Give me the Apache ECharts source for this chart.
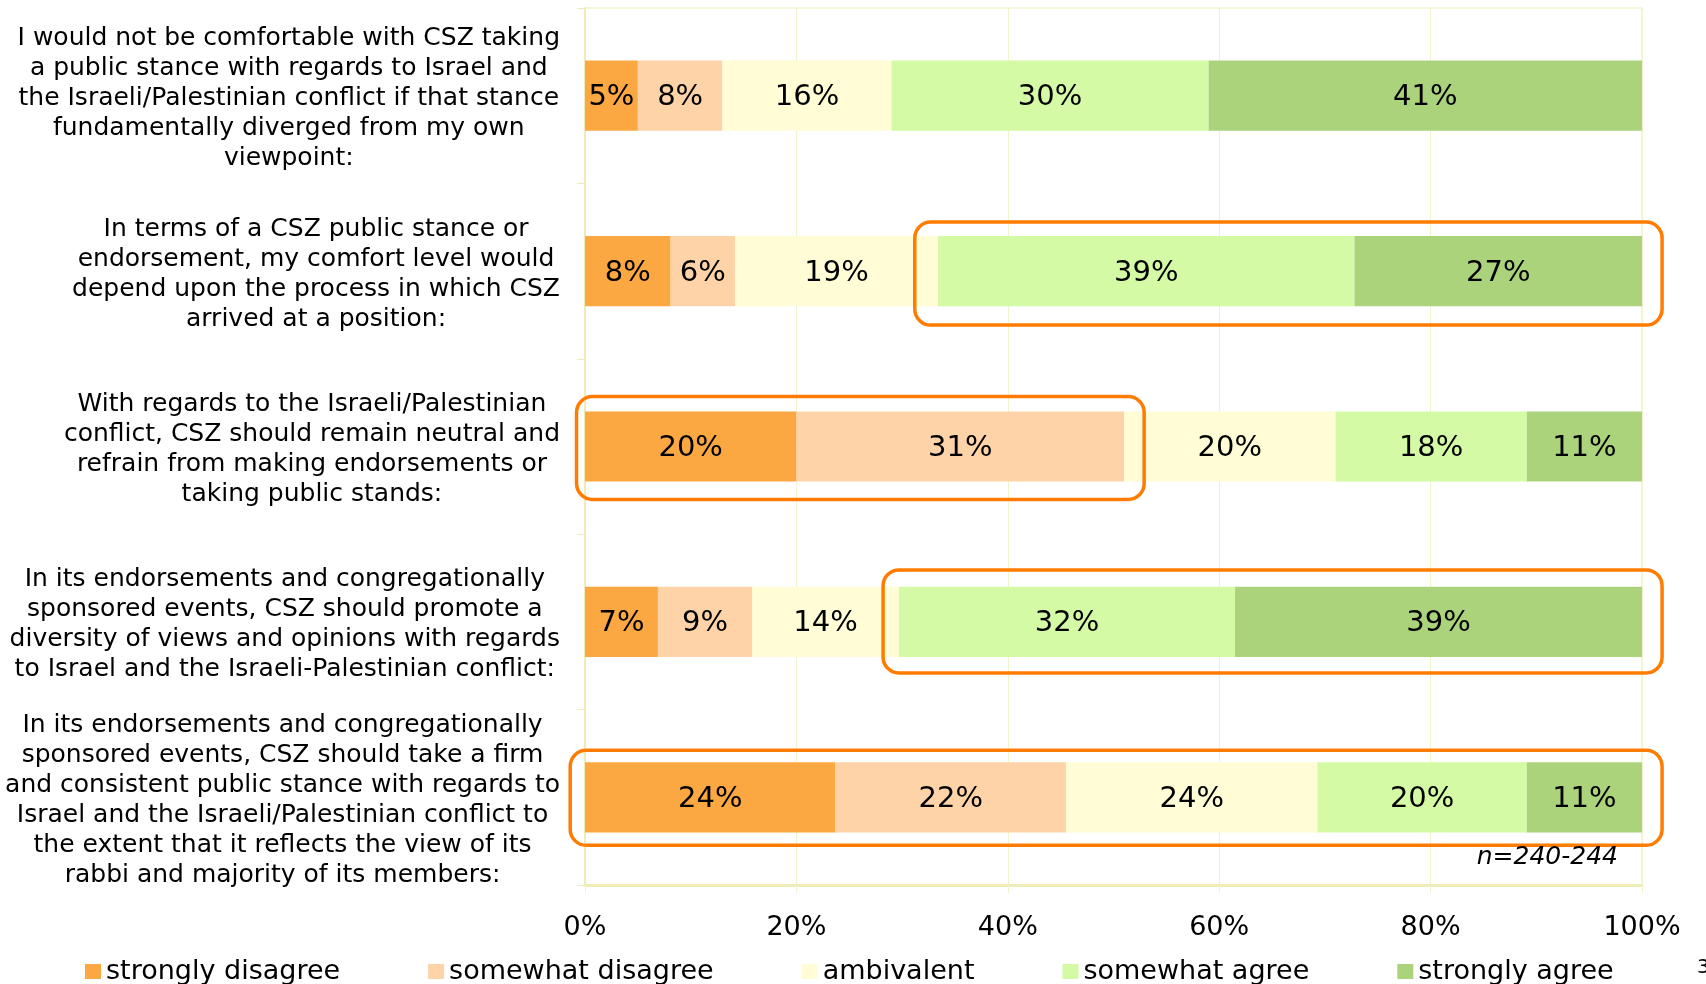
<!DOCTYPE html>
<html>
<head>
<meta charset="utf-8">
<title>CSZ public stance</title>
<script src="https://cdn.jsdelivr.net/npm/echarts@6/dist/echarts.min.js"></script>
<style>
  html, body { margin: 0; padding: 0; background: #fff; }
  #main { width: 1706px; height: 984px; }
</style>
</head>
<body>
<div id="main"></div>
<script>
// statements (top to bottom)
var categories = [
    'I would not be comfortable with CSZ taking\na public stance with regards to Israel and\nthe Israeli/Palestinian conflict if that stance\nfundamentally diverged from my own\nviewpoint:',
    'In terms of a CSZ public stance or\nendorsement, my comfort level would\ndepend upon the process in which CSZ\narrived at a position:',
    'With regards to the Israeli/Palestinian\nconflict, CSZ should remain neutral and\nrefrain from making endorsements or\ntaking public stands:',
    'In its endorsements and congregationally\nsponsored events, CSZ should promote a\ndiversity of views and opinions with regards\nto Israel and the Israeli-Palestinian conflict:',
    'In its endorsements and congregationally\nsponsored events, CSZ should take a firm\nand consistent public stance with regards to\nIsrael and the Israeli/Palestinian conflict to\nthe extent that it reflects the view of its\nrabbi and majority of its members:'
];

var seriesNames = ['strongly disagree', 'somewhat disagree', 'ambivalent', 'somewhat agree', 'strongly agree'];

// share of respondents, %
var stronglyDisagree = [5.0, 8.1, 20.0, 6.9, 23.7];
var somewhatDisagree = [8.0, 6.1, 31.0, 8.9, 21.8];
var ambivalent       = [16.0, 19.2, 20.0, 13.9, 23.8];
var somewhatAgree    = [30.0, 39.4, 18.1, 31.8, 19.8];
var stronglyAgree    = [41.0, 27.2, 10.9, 38.5, 10.9];

var xTicks = [0, 20, 40, 60, 80, 100];

// circled groups: [row, from %, to %]
var highlightBoxes = [
    [1, 31.2, 101.9],
    [2, -0.8, 52.9],
    [3, 28.2, 101.9],
    [4, -1.4, 101.9]
];

var colors = ['#fba842', '#fed3a8', '#fffcd6', '#d5faa6', '#aad37c'];
var gridColor = '#f3f2cf';
var axisColor = '#eeedb8';
var font = 'DejaVu Sans';

var chart = echarts.init(document.getElementById('main'));

var values = [stronglyDisagree, somewhatDisagree, ambivalent, somewhatAgree, stronglyAgree];
var series = seriesNames.map(function(name, i){
    return {
        name: name,
        type: 'bar',
        stack: 'total',
        barWidth: '40%',
        itemStyle: { color: colors[i] },
        label: {
            show: true,
            position: 'inside',
            offset: [0, 2],
            color: '#000',
            fontFamily: font,
            fontSize: 29,
            formatter: function(p){ return Math.round(p.value) + '%'; }
        },
        data: values[i]
    };
});

chart.setOption({
    animation: false,
    grid: {
        left: 585, right: 64, top: 8, bottom: 99,
        show: true, borderColor: axisColor, borderWidth: 1
    },
    legend: {
        data: seriesNames,
        left: 80,
        top: 953,
        icon: 'rect',
        itemWidth: 16,
        itemHeight: 15,
        itemGap: 88,
        textStyle: { fontFamily: font, fontSize: 27, color: '#000' }
    },
    xAxis: {
        type: 'value',
        min: xTicks[0],
        max: xTicks[xTicks.length - 1],
        interval: 20,
        axisLine: { show: true, lineStyle: { color: axisColor, width: 3 } },
        axisTick: { show: true, length: 8, lineStyle: { color: gridColor } },
        splitLine: { show: true, lineStyle: { color: gridColor, width: 1 } },
        axisLabel: {
            margin: 29,
            color: '#000',
            fontFamily: font,
            fontSize: 27,
            formatter: '{value}%'
        }
    },
    yAxis: {
        type: 'category',
        inverse: true,
        data: categories,
        axisLine: { show: true, lineStyle: { color: axisColor, width: 2 } },
        axisTick: { show: true, length: 8, lineStyle: { color: axisColor } },
        axisLabel: {
            interval: 0,
            margin: 25,
            align: 'right',
            padding: [6, 0, 0, 0],
            color: '#000',
            fontFamily: font,
            fontSize: 25,
            lineHeight: 30,
            formatter: function(v){
                return v.split('\n').map(function(l){ return '{c|' + l + '}'; }).join('\n');
            },
            rich: {
                c: { align: 'center', fontFamily: font, fontSize: 25, lineHeight: 30, color: '#000' }
            }
        }
    },
    series: series
});

// annotation boxes + sample size note
var boxTop = [-49, -50, -52, -47];
var boxHeight = [103, 103, 103, 95];
var graphics = highlightBoxes.map(function(b, i){
    var p0 = chart.convertToPixel({ gridIndex: 0 }, [b[1], b[0]]);
    var p1 = chart.convertToPixel({ gridIndex: 0 }, [b[2], b[0]]);
    return {
        type: 'rect',
        shape: { x: p0[0], y: p0[1] + boxTop[i], width: p1[0] - p0[0], height: boxHeight[i], r: 16 },
        style: { fill: 'none', stroke: '#ff7c00', lineWidth: 3.5 },
        z: 10
    };
});
graphics.push({
    type: 'text',
    x: 1618, y: 857,
    style: {
        text: 'n=240-244', align: 'right', verticalAlign: 'middle',
        fontFamily: font, fontStyle: 'italic', fontSize: 25, fill: '#000'
    },
    z: 10
});
graphics.push({
    type: 'text',
    x: 1697, y: 968,
    style: { text: '3', verticalAlign: 'middle', fontFamily: font, fontSize: 20, fill: '#000' }
});
chart.setOption({ graphic: graphics });
</script>
</body>
</html>
